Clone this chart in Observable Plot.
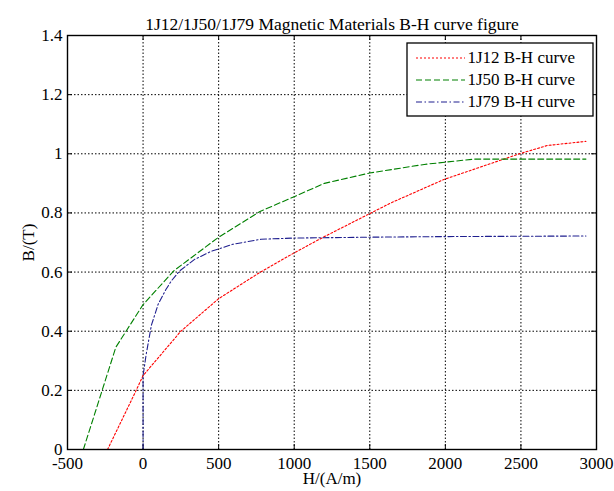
<!DOCTYPE html>
<html>
<head>
<meta charset="utf-8">
<script src="https://cdn.jsdelivr.net/npm/d3@7"></script>
<script src="https://cdn.jsdelivr.net/npm/@observablehq/plot@0.6"></script>
<style>
  html, body { margin: 0; padding: 0; background: #fff; }
  svg { display: block; }
</style>
</head>
<body>
<div id="chart"></div>
<script>
// ---- data ----
const titleText = "1J12/1J50/1J79 Magnetic Materials B-H curve figure";
const xLabel = "H/(A/m)";
const yLabel = "B/(T)";
const seriesNames = ["1J12 B-H curve", "1J50 B-H curve", "1J79 B-H curve"];

const h1J12 = [-235, -55, 0, 250, 500, 770, 1000, 1200, 1640, 1990, 2490, 2675, 2930];
const b1J12 = [0, 0.19, 0.25, 0.40, 0.51, 0.598, 0.665, 0.72, 0.834, 0.913, 1.0, 1.028, 1.042];

const h1J50 = [-395, -180, 0, 205, 495, 770, 1000, 1200, 1500, 1860, 2190, 2930];
const b1J50 = [0, 0.346, 0.49, 0.605, 0.716, 0.804, 0.855, 0.90, 0.935, 0.964, 0.982, 0.982];

const h1J79 = [0, 0, 20, 55, 99, 150, 187, 242, 341, 450, 594, 781, 1000, 1500, 2000, 2930];
const b1J79 = [0, 0.25, 0.32, 0.42, 0.49, 0.54, 0.57, 0.604, 0.643, 0.67, 0.694, 0.711, 0.715, 0.718, 0.72, 0.722];

const xTicks = [-500, 0, 500, 1000, 1500, 2000, 2500, 3000];
const yTicks = [0, 0.2, 0.4, 0.6, 0.8, 1, 1.2, 1.4];

// ---- styles ----
const seriesColors = ["#ff0000", "#008000", "#1f1f8f"];
const dashes = ["2,2", "6,3", "6,2.5,1.5,2.5"];
const font = "Liberation Serif, Times New Roman, serif";

const toRows = (hs, bs) => hs.map((h, i) => ({H: h, B: bs[i]}));
const seriesData = [toRows(h1J12, b1J12), toRows(h1J50, b1J50), toRows(h1J79, b1J79)];

const W = 614, Hh = 491;
const mL = 67, mR = 18, mT = 35, mB = 42;
const pw = W - mL - mR, ph = Hh - mT - mB;
const tl = 5;
const xDomain = [-500, 3000], yDomain = [0, 1.4];

// pixel -> data helpers for placing the legend box (layout only)
const px2x = d3.scaleLinear([mL, W - mR], xDomain);
const px2y = d3.scaleLinear([Hh - mB, mT], yDomain);

const legendBox = [{x1: px2x(407), x2: px2x(593), y1: px2y(43), y2: px2y(116)}];
const legendRows = seriesNames.map((name, i) => ({
  name, i, x1: px2x(416), x2: px2x(465), xt: px2x(467), y: px2y(57.5 + i * 22)
}));

const plot = Plot.plot({
  width: W,
  height: Hh,
  marginLeft: mL,
  marginRight: mR,
  marginTop: mT,
  marginBottom: mB,
  style: {fontFamily: font, fontSize: "17px", color: "#000", background: "#fff"},
  x: {domain: xDomain, ticks: xTicks},
  y: {domain: yDomain, ticks: yTicks},
  marks: [
    Plot.gridX(xTicks, {stroke: "#000", strokeOpacity: 1, strokeDasharray: "1.5,2", strokeWidth: 1}),
    Plot.gridY(yTicks, {stroke: "#000", strokeOpacity: 1, strokeDasharray: "1.5,2", strokeWidth: 1}),
    // inward tick marks on all four sides
    Plot.tickX(xTicks, {x: d => d, insetTop: ph - tl, stroke: "#000"}),
    Plot.tickX(xTicks, {x: d => d, insetBottom: ph - tl, stroke: "#000"}),
    Plot.tickY(yTicks, {y: d => d, insetRight: pw - tl, stroke: "#000"}),
    Plot.tickY(yTicks, {y: d => d, insetLeft: pw - tl, stroke: "#000"}),
    ...seriesData.map((rows, i) =>
      Plot.line(rows, {x: "H", y: "B", stroke: seriesColors[i], strokeDasharray: dashes[i], strokeWidth: 1.1})
    ),
    Plot.frame({stroke: "#000", strokeWidth: 1.4}),
    Plot.axisX(xTicks, {tickSize: 0, tickPadding: 7, tickFormat: d => String(d), label: xLabel, labelAnchor: "center", labelArrow: "none", labelOffset: 34, fontSize: 17}),
    Plot.axisY(yTicks, {tickSize: 0, tickPadding: 5, tickFormat: d => String(d), label: yLabel, labelAnchor: "center", labelArrow: "none", labelOffset: 46, fontSize: 17}),
    Plot.text([titleText], {frameAnchor: "top", dy: -18, fontSize: 17.5, fill: "#000"}),
    // legend
    Plot.rect(legendBox, {x1: "x1", x2: "x2", y1: "y1", y2: "y2", fill: "#fff", stroke: "#000", strokeWidth: 1.3}),
    ...legendRows.map(r =>
      Plot.ruleY([r], {x1: "x1", x2: "x2", y: "y", stroke: seriesColors[r.i], strokeDasharray: dashes[r.i], strokeWidth: 1.1})
    ),
    Plot.text(legendRows, {x: "xt", y: "y", text: "name", textAnchor: "start", fontSize: 17, fill: "#000"})
  ]
});

document.getElementById("chart").appendChild(plot);
</script>
</body>
</html>
